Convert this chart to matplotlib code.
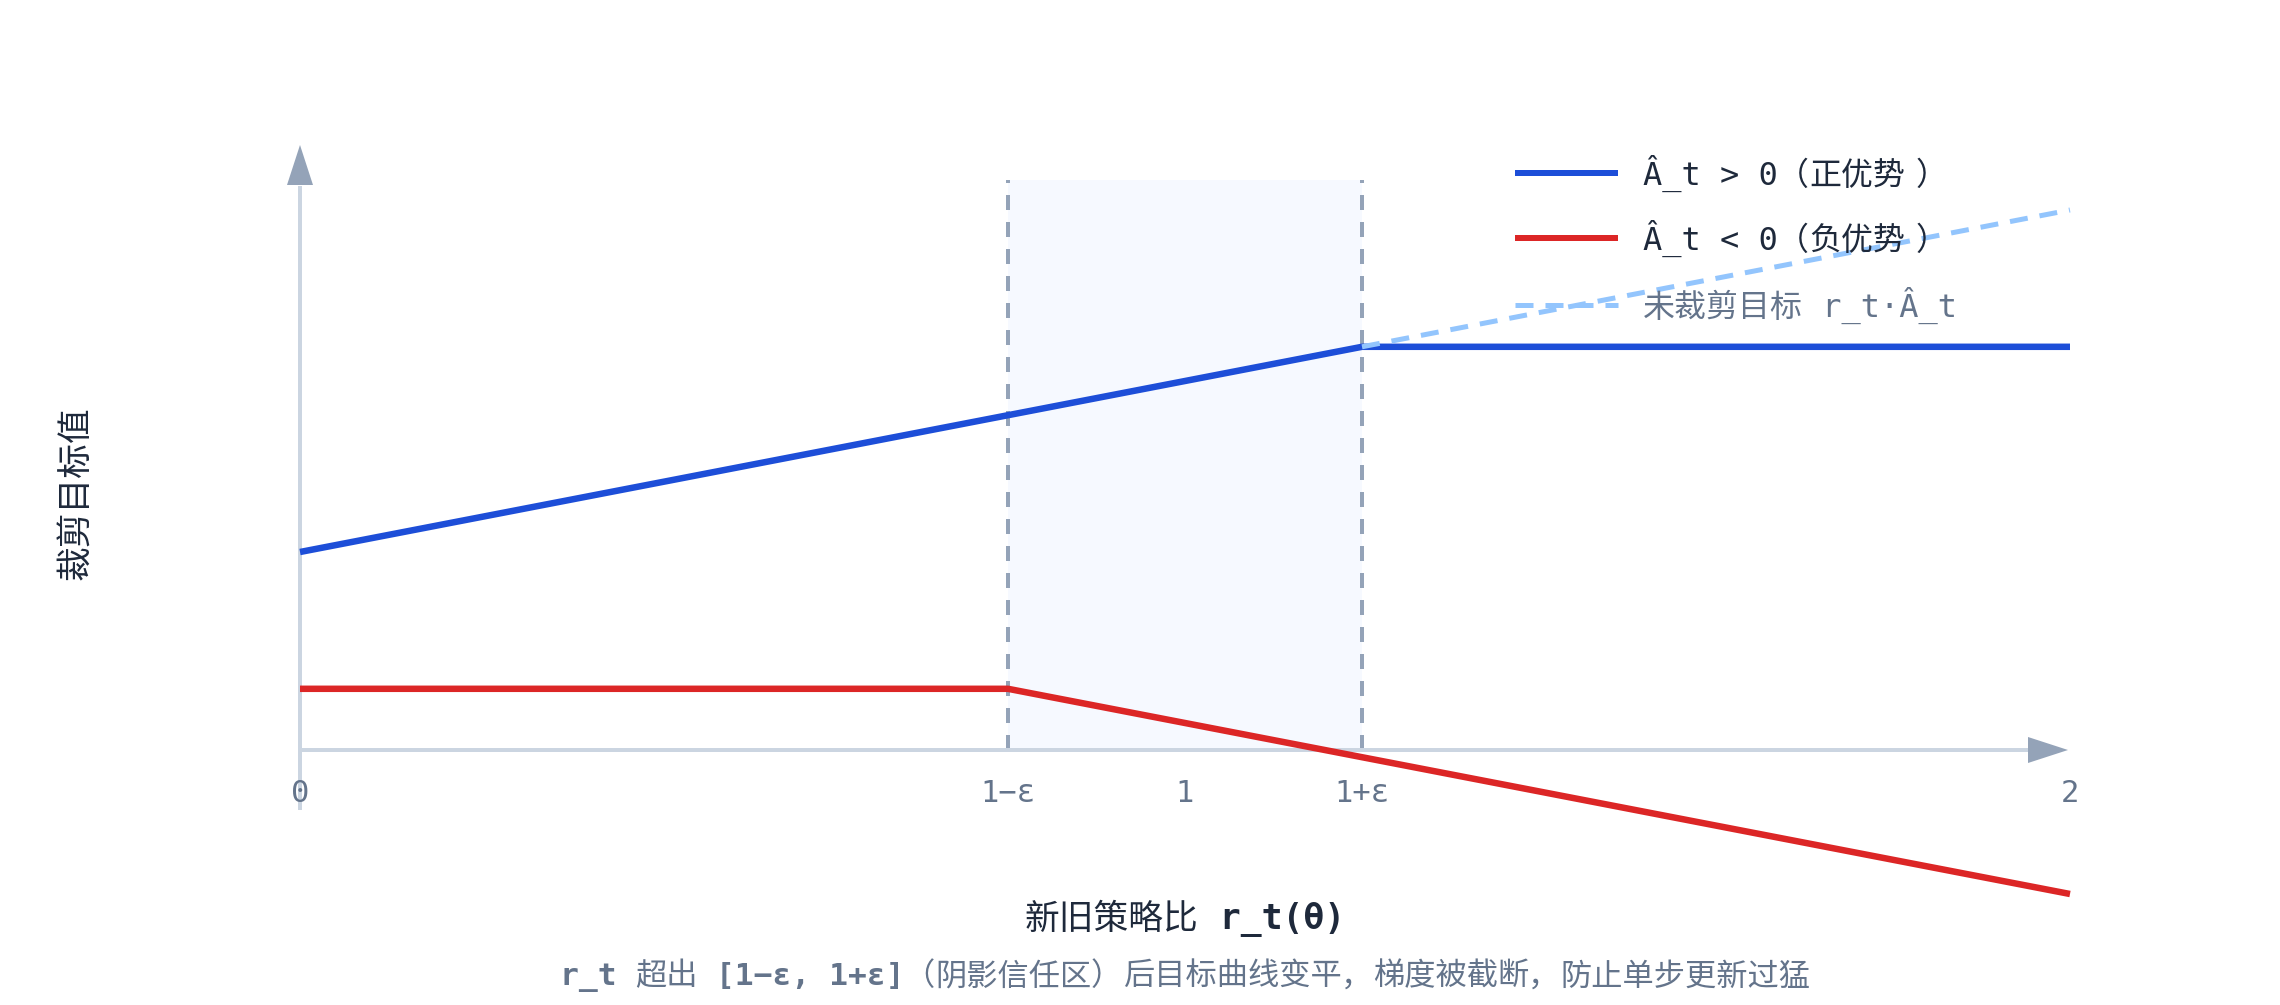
import matplotlib
matplotlib.use("Agg")
import matplotlib.pyplot as plt
from matplotlib.patches import Polygon, Rectangle
from matplotlib.transforms import IdentityTransform
from matplotlib.textpath import TextPath
from matplotlib.font_manager import FontProperties

plt.rcParams['font.family'] = ['DejaVu Sans Mono', 'Noto Sans CJK SC']

# ---- data ----
eps = 0.2
r_values = [0.0, 0.8, 1.0, 1.2, 2.0]
pos_clipped = [0.0, 0.8, 1.0, 1.2, 1.2]       # Â_t > 0
neg_clipped = [-0.8, -0.8, -1.0, -1.2, -2.0]  # Â_t < 0
r_unclipped = [1.2, 2.0]
pos_unclipped = [1.2, 2.0]
tick_pos = [0.0, 0.8, 1.0, 1.2, 2.0]
tick_labels = ['0', '1−ε', '1', '1+ε', '2']
legend_labels = ['Â_t > 0（正优势）', 'Â_t < 0（负优势）', '未裁剪目标 r_t·Â_t']
xlabel = '新旧策略比 r_t(θ)'
ylabel = '裁剪目标值'
subtitle = 'r_t 超出 [1−ε, 1+ε]（阴影信任区）后目标曲线变平，梯度被截断，防止单步更新过猛'

# ---- layout (pixel mapping) ----
W, H = 2280, 1005
X0, SX = 300.0, 885.0   # pixel of r=0, px per unit
Y0, SY = 552.0, 171.0   # pixel (from top) of y=0, px per unit

def px2x(p):
    return (p - X0) / SX

def py2y(p):
    return (Y0 - p) / SY

fig = plt.figure(figsize=(W / 100, H / 100), dpi=100)
ax = fig.add_axes([0, 0, 1, 1])
ax.set_xlim(px2x(0), px2x(W))
ax.set_ylim(py2y(H), py2y(0))
ax.axis('off')
renderer = fig.canvas.get_renderer()

BLUE = '#1d4ed8'
RED = '#dc2626'
LBLUE = '#93c5fd'
AXIS = '#cbd5e1'
ARROW = '#94a3b8'
GRID = '#94a3b8'
TXT = '#1e293b'
MUTED = '#64748b'

lw_px = lambda p: p * 72 / 100
FULLW = '（），'
MONO_ADV = 1233 / 2048


def kind(ch):
    if ch in FULLW:
        return 'fw'
    o = ord(ch)
    if (0x2E80 <= o <= 0x9FFF) or (0xFF00 <= o <= 0xFFEF) or (0x3000 <= o <= 0x303F):
        return 'cjk'
    return 'mono'


FAMS = {'mono': ['DejaVu Sans Mono'], 'cjk': ['Noto Sans CJK SC'],
        'fw': ['Noto Sans CJK SC']}


def rich_text(x_px, y_px, text, size, color, ha='left', mono_weight='normal', z=6):
    """Draw mixed mono / CJK text; y_px is the visual centre line (from top)."""
    runs = []
    for ch in text:
        k = kind(ch)
        if runs and runs[-1][1] == k and k != 'fw':
            runs[-1][0] += ch
        else:
            runs.append([ch, k])
    em = size * 100 / 72
    base = H - y_px - 0.36 * em
    items = []
    for s, k in runs:
        wt = mono_weight if k == 'mono' else 'normal'
        if k == 'mono':
            adv, off = len(s) * MONO_ADV * em, 0.0
        elif k == 'cjk':
            adv, off = len(s) * em, 0.0
        else:
            ext = TextPath((0, 0), s, size=em,
                           prop=FontProperties(family=FAMS[k])).get_extents()
            adv = em
            off = em / 2 - (ext.x0 + ext.x1) / 2
        t = fig.text(0, base, s, transform=IdentityTransform(), fontsize=size,
                     color=color, family=FAMS[k], fontweight=wt, va='baseline',
                     ha='left', zorder=z)
        items.append([t, adv, off, k])
    total = sum(it[1] for it in items)
    x = x_px if ha == 'left' else x_px - total / 2
    for it in items:
        it[0].set_x(x + it[2])
        x += it[1]
    # keep the layout boxes of neighbouring runs from touching
    for i in range(1, len(items)):
        prev_t, cur_t = items[i - 1][0], items[i][0]
        pe = prev_t.get_window_extent(renderer).x1
        cs = cur_t.get_window_extent(renderer).x0
        gap = cs - pe
        if gap < 1.0:
            d = 1.0 - gap
            if items[i][3] == 'fw':
                cur_t.set_x(cur_t.get_position()[0] + d)
            elif items[i - 1][3] == 'fw':
                prev_t.set_x(prev_t.get_position()[0] - d)


x_axis_y = py2y(750)
top_y = py2y(180)

# shaded trust region
ax.add_patch(Rectangle((1 - eps, x_axis_y), 2 * eps, top_y - x_axis_y,
                       facecolor='#f6f9ff', edgecolor='none', zorder=1))
for xv in (1 - eps, 1 + eps):
    ax.plot([xv, xv], [x_axis_y, top_y], color=GRID, lw=lw_px(4),
            dashes=(15 / 4, 12 / 4), zorder=2)

# axes lines
ax.plot([0, px2x(2030)], [x_axis_y, x_axis_y], color=AXIS, lw=lw_px(4),
        solid_capstyle='butt', zorder=2)
ax.plot([0, 0], [py2y(810), py2y(186)], color=AXIS, lw=lw_px(4),
        solid_capstyle='butt', zorder=2)
# arrow heads
ax.add_patch(Polygon([[px2x(2028), py2y(737)], [px2x(2068), py2y(750)],
                      [px2x(2028), py2y(763)]], closed=True,
                     facecolor=ARROW, edgecolor='none', zorder=3))
ax.add_patch(Polygon([[px2x(287), py2y(185)], [px2x(300), py2y(145)],
                      [px2x(313), py2y(185)]], closed=True,
                     facecolor=ARROW, edgecolor='none', zorder=3))

# curves
ax.plot(r_values, pos_clipped, color=BLUE, lw=lw_px(6.5), zorder=5,
        solid_capstyle='butt', solid_joinstyle='round')
ax.plot(r_values, neg_clipped, color=RED, lw=lw_px(6.5), zorder=5,
        solid_capstyle='butt', solid_joinstyle='round')
ax.plot(r_unclipped, pos_unclipped, color=LBLUE, lw=lw_px(5),
        dashes=(18 / 5, 12 / 5), zorder=7)

# ticks
for tp, tl in zip(tick_pos, tick_labels):
    ax.text(tp, py2y(793), tl, ha='center', va='center', fontsize=22,
            color=MUTED, zorder=6)

# legend
leg_rows = [173, 238, 305]
leg_styles = [dict(color=BLUE, lw=lw_px(6)), dict(color=RED, lw=lw_px(6)),
              dict(color=LBLUE, lw=lw_px(5), dashes=(18 / 5, 12 / 5))]
leg_colors = [TXT, TXT, MUTED]
for yy, st, lab, c in zip(leg_rows, leg_styles, legend_labels, leg_colors):
    ax.plot([px2x(1515), px2x(1618)], [py2y(yy), py2y(yy)],
            solid_capstyle='butt', zorder=6, **st)
    rich_text(1643, yy, lab, 23, c, ha='left', z=4)

# axis titles
rich_text(1185, 916, xlabel, 25, TXT, ha='center', mono_weight='semibold')
ax.text(px2x(76), py2y(493), ylabel, ha='center', va='center',
        fontsize=25, color=TXT, rotation=90, family=['Noto Sans CJK SC'])
rich_text(1185, 974, subtitle, 22.5, MUTED, ha='center', mono_weight='semibold')

fig.savefig('out.png', dpi=100, facecolor='white')
